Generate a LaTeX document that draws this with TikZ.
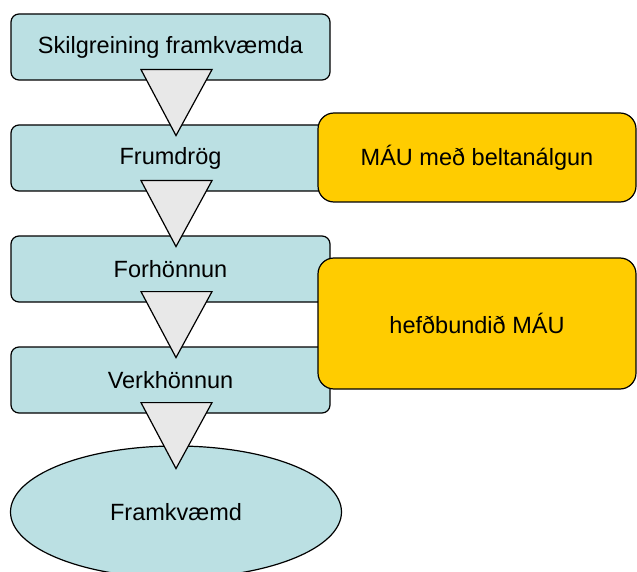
\documentclass[tikz,border=0pt]{standalone}
\usepackage{fontspec}
\setmainfont{Liberation Sans}
\usepackage{tikz}
\usetikzlibrary{shapes.geometric}

\definecolor{phaseblue}{HTML}{BBE0E3}
\definecolor{methodyellow}{HTML}{FFCC00}
\definecolor{flowgray}{HTML}{E8E8E8}

\begin{document}
\begin{tikzpicture}[
    x=1pt, y=-1pt,
    phase/.style={rectangle, draw, rounded corners=8pt, fill=phaseblue,
                  line width=1.2pt, minimum width=319pt, minimum height=66pt,
                  inner sep=0pt, font=\fontsize{23.5}{28}\selectfont},
    method/.style={phase, fill=methodyellow, rounded corners=16pt, minimum width=318pt},
    flow/.style={draw, fill=flowgray, line width=1.2pt, line join=miter},
]
    \clip (0,0) rectangle (637,572);

    \node[phase] (skil) at (170.5,47) {Skilgreining framkvæmda};
    \node[phase] (frum) at (170.5,158) {Frumdrög};
    \node[phase] (forh) at (170.5,269) {Forhönnun};
    \node[phase] (verk) at (170.5,380) {Verkhönnun};
    \node[ellipse, draw, fill=phaseblue, line width=1.2pt, minimum width=331pt,
          minimum height=132pt, inner sep=0pt,
          font=\fontsize{23.5}{28}\selectfont] (framk) at (176,512) {Framkvæmd};

    \node[method, minimum height=89pt] (belt) at (477,157.5) {MÁU með beltanálgun};
    \node[method, minimum height=131pt] (hefd) at (477,323.5) {hefðbundið MÁU};

    % triangles between the phases
    \foreach \a in {skil, frum, forh, verk}
        \draw[flow] ([shift={(-29.5,-11)}]\a.south) -- ([shift={(41.5,-11)}]\a.south)
            -- ([shift={(5.5,55)}]\a.south) -- cycle;
\end{tikzpicture}
\end{document}
